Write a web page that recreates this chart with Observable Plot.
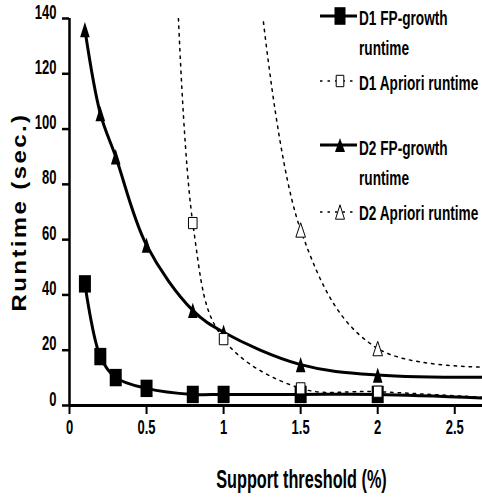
<!DOCTYPE html>
<html><head><meta charset="utf-8">
<script src="https://cdn.jsdelivr.net/npm/d3@7"></script>
<script src="https://cdn.jsdelivr.net/npm/@observablehq/plot@0.6"></script>
<style>
body{margin:0;background:#fff;}
#wrap{position:relative;width:482px;height:499px;overflow:hidden;}
#legend{position:absolute;left:0;top:0;pointer-events:none;}
</style></head><body><div id="wrap"></div>
<script>
// ---- data ----
const seriesNames = ["D1 FP-growth runtime", "D1 Apriori runtime", "D2 FP-growth runtime", "D2 Apriori runtime"];
const d1FpX = [0.1, 0.2, 0.3, 0.5, 0.8, 1, 1.5, 2, 3];
const d1FpY = [44, 17.7, 10.1, 6.2, 4, 4, 4, 4, 2];
const d1ApX = [0.5, 0.8, 1, 1.5, 2, 3];
const d1ApY = [1000, 66, 24, 6.2, 5, 2];
const d2FpX = [0.1, 0.2, 0.3, 0.5, 0.8, 1, 1.5, 2, 3];
const d2FpY = [136, 105.6, 90, 58, 34.4, 26.5, 14.8, 11, 10.3];
const d2ApX = [1, 1.5, 2, 3];
const d2ApY = [320, 63.5, 20.6, 14];
const xTicks = [0, 0.5, 1, 1.5, 2, 2.5];
const yTicks = [0, 20, 40, 60, 80, 100, 120, 140];
const xTitle = "Support threshold (%)";
const yTitle = "Runtime (sec.)";

const rows = (name, xs, ys) => xs.map((x, i) => ({series: name, x, y: ys[i]}));
const d1Fp = rows(seriesNames[0], d1FpX, d1FpY);
const d1Ap = rows(seriesNames[1], d1ApX, d1ApY);
const d2Fp = rows(seriesNames[2], d2FpX, d2FpY);
const d2Ap = rows(seriesNames[3], d2ApX, d2ApY);

const xMax = 2.68, yMax = 140;
const visible = d => d.x <= xMax && d.y <= yMax;

const tallSquare = a => ({draw(ctx, size) { const r = Math.sqrt(size / Math.PI); ctx.rect(-r, -r * a, 2 * r, 2 * r * a); }});
const tallTriangle = a => ({draw(ctx, size) { const r = Math.sqrt(size / Math.PI), h = 2 * r * a; ctx.moveTo(0, -h / 2); ctx.lineTo(r, h / 2); ctx.lineTo(-r, h / 2); ctx.closePath(); }});

const font = "'Liberation Sans', Arial, sans-serif";
const solid = {x: "x", y: "y", curve: "catmull-rom", stroke: "black", strokeWidth: 3, clip: true};
const dashed = {x: "x", y: "y", curve: "catmull-rom", stroke: "black", strokeWidth: 1.5, strokeDasharray: "2.5,5", clip: true};

const chart = Plot.plot({
  width: 482, height: 499,
  marginLeft: 69, marginTop: 18, marginBottom: 94, marginRight: 0,
  x: {domain: [0, xMax]},
  y: {domain: [0, yMax]},
  style: {fontFamily: font, background: "white", color: "black"},
  marks: [
    Plot.line(d1Ap, dashed),
    Plot.line(d2Ap, dashed),
    Plot.line(d1Fp, solid),
    Plot.line(d2Fp, solid),
    Plot.axisY({ticks: yTicks, tickFormat: d => String(d), tickSize: 7, tickPadding: 6, fontSize: 21, fontWeight: "bold", strokeWidth: 2.5, label: null, className: "ticklab"}),
    Plot.axisX({ticks: xTicks, tickFormat: d => String(d), tickSize: 9, tickPadding: 19, fontSize: 21, fontWeight: "bold", strokeWidth: 2, label: null, className: "ticklab"}),
    Plot.ruleX([0], {strokeWidth: 2.5}),
    Plot.ruleY([0], {strokeWidth: 3}),
    Plot.dot(d1Fp.filter(visible), {x: "x", y: "y", symbol: tallSquare(1.45), r: 6, fill: "black", stroke: "none"}),
    Plot.dot(d2Fp.filter(visible), {x: "x", y: "y", symbol: tallTriangle(1.6), r: 4.8, fill: "black", stroke: "none"}),
    Plot.dot(d1Ap.filter(visible), {x: "x", y: "y", symbol: tallSquare(1.3), r: 4.3, fill: "white", stroke: "black", strokeWidth: 1}),
    Plot.dot(d2Ap.filter(visible), {x: "x", y: "y", symbol: tallTriangle(1.5), r: 4.8, fill: "white", stroke: "black", strokeWidth: 1}),
    Plot.text([yTitle], {frameAnchor: "left", textAnchor: "middle", lineAnchor: "middle", dx: -44, rotate: -90, fontSize: 20, fontWeight: "bold", className: "ytitle"}),
    Plot.text([xTitle], {frameAnchor: "bottom", textAnchor: "middle", lineAnchor: "middle", dx: 25.5, dy: 82, fontSize: 25, fontWeight: "bold", className: "xtitle"})
  ]
});

// condense text horizontally (narrow bold look of the reference) around each text's anchor
function squeeze(t, sx) {
  const tr = t.getAttribute("transform") || "";
  const x = +t.getAttribute("x") || 0, y = +t.getAttribute("y") || 0;
  t.removeAttribute("x"); t.removeAttribute("y");
  t.setAttribute("transform", `${tr} translate(${x},${y}) scale(${sx},1)`);
}
chart.querySelectorAll("text").forEach(t => {
  if (t.closest(".ytitle")) { squeeze(t, 1.2); t.style.letterSpacing = "2px"; }
  else if (t.closest(".xtitle")) squeeze(t, 0.65);
  else { t.style.fontSize = "21px"; t.style.fontWeight = "bold"; squeeze(t, 0.62); }
});

const wrap = document.getElementById("wrap");
wrap.appendChild(chart);

// ---- legend ----
const lg = d3.select(wrap).append("svg").attr("id", "legend").attr("width", 482).attr("height", 499);
const legendItems = [
  {lines: ["D1 FP-growth", "runtime"], y: 16, ty: 17.5, dash: null, sym: tallSquare(1.6), fill: "black", r: 5.5},
  {lines: ["D1 Apriori runtime"], y: 81, ty: 82.5, dash: "2.5,5", sym: tallSquare(1.5), fill: "white", r: 3.8},
  {lines: ["D2 FP-growth", "runtime"], y: 145, ty: 148, dash: null, sym: tallTriangle(1.4), fill: "black", r: 5},
  {lines: ["D2 Apriori runtime"], y: 212, ty: 212.5, dash: "2.5,5", sym: tallTriangle(1.6), fill: "white", r: 4.5}
];
legendItems.forEach(it => {
  const g = lg.append("g");
  g.append("line").attr("x1", 320).attr("x2", 357).attr("y1", it.y).attr("y2", it.y)
    .attr("stroke", "black").attr("stroke-width", it.dash ? 1.5 : 3).attr("stroke-dasharray", it.dash);
  const path = d3.path();
  it.sym.draw(path, Math.PI * it.r * it.r);
  g.append("path").attr("d", path.toString()).attr("transform", `translate(340,${it.y})`)
    .attr("fill", it.fill).attr("stroke", it.fill === "white" ? "black" : "none");
  it.lines.forEach((t, i) => {
    g.append("text").attr("transform", `translate(359,${it.ty + i * 30}) scale(0.65,1)`).attr("dy", "0.35em")
      .attr("font-family", font).attr("font-weight", "bold").attr("font-size", 21).text(t);
  });
});
</script></body></html>
